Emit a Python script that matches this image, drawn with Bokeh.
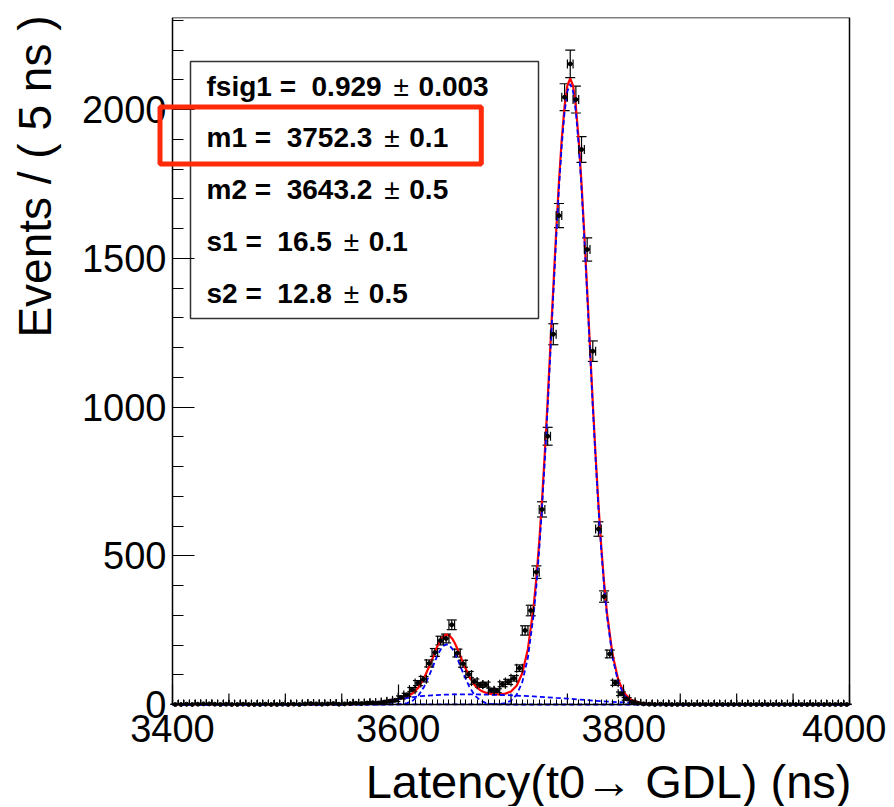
import math
from bokeh.plotting import figure
from bokeh.models import (Range1d, FixedTicker, Whisker, TeeHead, ColumnDataSource)
from bokeh.embed import file_html
from bokeh.resources import INLINE
from bokeh.core.properties import value

# ---------------- data ----------------
bin_lo, bin_width, n_bins = 3400.0, 5.0, 120
counts = [
    0, 0, 1, 0, 1, 2, 2, 1, 0, 1,
    0, 0, 1, 0, 0, 0, 1, 0, 0, 1,
    0, 1, 0, 2, 3, 2, 1, 2, 3, 1,
    2, 3, 4, 3, 5, 6, 5, 8, 11, 14,
    24, 32, 50, 72, 85, 138, 175, 215, 222, 268,
    173, 137, 101, 77, 66, 67, 48, 46, 68, 76,
    88, 122, 249, 316, 445, 656, 902, 1245, 1644, 2042,
    2154, 2034, 1866, 1530, 1188, 590, 363, 170, 73, 36,
    19, 9, 4, 2, 1, 0, 1, 0, 0, 0,
    0, 0, 0, 0, 0, 0, 0, 0, 0, 0,
    0, 0, 0, 0, 0, 0, 0, 0, 0, 0,
    0, 0, 0, 0, 0, 0, 0, 0, 0, 0,
]

# total fit (red)
total_x = [3400, 3450, 3500, 3530, 3550, 3560, 3570, 3580, 3590, 3598, 3603, 3608, 3613,
           3618, 3623, 3628, 3630.5, 3633, 3635.5, 3638, 3640.5, 3643, 3645.5, 3648,
           3650.5, 3653, 3655.5, 3658, 3663, 3668, 3673, 3678, 3683, 3690, 3695, 3700,
           3705, 3710, 3715, 3720, 3722.5, 3725, 3727.5, 3730, 3732.5, 3735, 3737.5,
           3740, 3742.5, 3745, 3747.5, 3750, 3752.5, 3755, 3757.5, 3760, 3762.5, 3765,
           3767.5, 3770, 3772.5, 3775, 3777.5, 3780, 3782.5, 3785, 3790, 3795, 3800,
           3805, 3810, 3815, 3820, 3830, 3840, 3850, 3870, 3900, 4000]
total_y = [0, 0.1, 0.2, 0.5, 1, 1.5, 3, 6, 11, 16.2, 20.3, 26.6, 37.5,
           57, 88.9, 132.4, 156.1, 180.6, 202.1, 219.6, 231, 235.3, 231.5, 220.8,
           204, 183, 159, 136, 94, 64, 47, 38.6, 35.1, 33.8, 36.5, 44,
           63, 105, 187, 327, 425.5, 546, 686.5, 848, 1024, 1212.5, 1402,
           1587, 1757.5, 1902, 2012.5, 2082, 2105, 2080.5, 2010, 1898, 1752, 1580.5,
           1394, 1203, 1013, 835.5, 673, 531, 409.5, 310, 168, 84, 40,
           19, 10, 5.6, 3.4, 2, 1, 0.5, 0.2, 0.05, 0]

# component 1 (blue dashed, main peak)
sig1_x = [3400, 3680, 3690, 3695, 3700, 3705, 3710, 3715, 3720, 3722.5, 3725, 3727.5,
          3730, 3732.5, 3735, 3737.5, 3740, 3742.5, 3745, 3747.5, 3750, 3752.5, 3755,
          3757.5, 3760, 3762.5, 3765, 3767.5, 3770, 3772.5, 3775, 3777.5, 3780, 3782.5,
          3785, 3790, 3795, 3800, 3805, 3810, 3815, 3820, 3830, 4000]
sig1_y = [0, 0.3, 1.6, 5, 13, 33, 75, 158, 300, 399, 520, 661,
          823, 1000, 1189, 1379, 1565, 1736, 1881, 1992, 2062, 2086, 2062,
          1992, 1881, 1736, 1565, 1379, 1189, 1000, 823, 661, 520, 399,
          300, 158, 75, 33, 13, 5, 1.6, 0.4, 0, 0]

# component 2 (blue dashed, second peak)
sig2_x = [3400, 3590, 3598, 3603, 3608, 3613, 3618, 3623, 3628, 3630.5, 3633, 3635.5,
          3638, 3640.5, 3643, 3645.5, 3648, 3650.5, 3653, 3655.5, 3658, 3663, 3668,
          3673, 3678, 3683, 3688, 3700, 4000]
sig2_y = [0, 0.05, 0.4, 1.5, 4.8, 13, 30, 60, 102, 125, 149, 170,
          187, 198, 202, 198, 187, 170, 149, 125, 102, 60, 30,
          13, 4.8, 1.5, 0.4, 0, 0]

# component 3 (blue dashed, broad)
bkg_x = [3400, 3500, 3530, 3550, 3560, 3570, 3580, 3590, 3600, 3610, 3620, 3630, 3640,
         3650, 3660, 3670, 3680, 3690, 3700, 3710, 3720, 3730, 3740, 3750, 3760, 3770,
         3780, 3790, 3800, 3810, 3820, 3830, 3840, 3850, 3870, 3900, 4000]
bkg_y = [0, 0.2, 0.5, 1, 1.5, 3, 6, 11, 17, 23, 28, 31, 33,
         34, 34, 34, 33, 32, 31, 29, 27, 25, 22, 20, 17, 14,
         11, 9, 7, 5, 3, 2, 1, 0.5, 0.2, 0, 0]

# fit parameters: (name, value, error)
param_names = ["fsig1", "m1", "m2", "s1", "s2"]
param_values = ["0.929", "3752.3", "3643.2", "16.5", "12.8"]
param_errors = ["0.003", "0.1", "0.5", "0.1", "0.5"]

x_major = [3400, 3600, 3800, 4000]
y_major = [0, 500, 1000, 1500, 2000]
y_title = "Events / ( 5 ns )"
x_title = "Latency(t0\u2192 GDL) (ns)"

# ---------------- layout ----------------
X0, X1, Y0, Y1 = 3400, 4000, 0, 2310
AX_L, AX_R, AX_T, AX_B = 172, 849, 17, 704   # axis box in page pixels
SX = (AX_R - AX_L) / (X1 - X0)               # px per ns
SY = (AX_B - AX_T) / (Y1 - Y0)               # px per event
PAGE_W = 886
FW = PAGE_W                                  # frame spans the margins too
FH = 789
XR0 = X0 - AX_L / SX
XR1 = X1 + (PAGE_W - AX_R) / SX
YR0 = Y1 - FH / SY


def dx(px):  # page x pixel -> data x
    return X0 + (px - AX_L) / SX


def dy(py):  # page y pixel -> data y
    return Y1 - (py - AX_T) / SY


def hpx(n):  # vertical pixel length -> data length
    return n / SY


FONT = "Liberation Sans"
BOX_FS = 28
# advance widths (em) of Liberation Sans Bold for the characters used
BOLD_W = {"f": .333, "s": .556, "i": .278, "g": .611, "m": .889, ".": .278,
          " ": .278, "=": .584}


def bold_width(t):
    return sum(BOLD_W.get(ch, .556) for ch in t) * BOX_FS


p = figure(frame_width=FW, frame_height=FH,
           x_range=Range1d(XR0, XR1), y_range=Range1d(YR0, Y1),
           output_backend="svg", toolbar_location=None,
           min_border_left=0, min_border_top=AX_T,
           min_border_right=0, min_border_bottom=0,
           background_fill_color="white", border_fill_color="white")
p.grid.visible = False
p.outline_line_color = None

# axes (placed on the axis box inside the wide frame)
xa = p.xaxis[0]
xa.fixed_location = Y0
xa.bounds = (X0, X1)
xa.ticker = FixedTicker(ticks=x_major,
                        minor_ticks=[X0 + 5 * i for i in range(121)])
xa.major_tick_in = 20
xa.major_tick_out = 0
xa.minor_tick_in = 5
xa.minor_tick_out = 0
ya = p.yaxis[0]
ya.fixed_location = X0
ya.bounds = (Y0, Y1)
ya.ticker = FixedTicker(ticks=y_major, minor_ticks=[100 * i for i in range(24)])
ya.major_tick_in = 22
ya.major_tick_out = 0
ya.minor_tick_in = 11
ya.minor_tick_out = 0
for ax in (xa, ya):
    ax.axis_line_color = "black"
    ax.axis_line_width = 1.5
    ax.major_tick_line_color = "black"
    ax.minor_tick_line_color = "black"
    ax.major_tick_line_width = 1.2
    ax.minor_tick_line_width = 1
    ax.major_label_text_font = FONT
    ax.major_label_text_font_size = "38px"
    ax.major_label_text_color = "black"
xa.major_label_standoff = 10
ya.major_label_standoff = 6

# top and right frame edges
p.line([X0, X1, X1], [Y1, Y1, Y0], line_color="black", line_width=1.5)

# medium x ticks (every 50)
mid_ticks = [t for t in range(3450, 4000, 50) if t % 200 != 0]
p.segment(x0=mid_ticks, y0=[0] * len(mid_ticks), x1=mid_ticks,
          y1=[hpx(11)] * len(mid_ticks), line_color="black", line_width=1.2)

# axis titles
p.text(x=[dx(34)], y=[dy(15)], text=[y_title], angle=math.pi / 2,
       text_font=value(FONT), text_font_size="46px", text_color="black",
       text_align="right", text_baseline="middle")
p.text(x=[dx(851)], y=[dy(781)], text=[x_title],
       text_font=value(FONT), text_font_size="47px", text_color="black",
       text_align="right", text_baseline="middle")

# fit curves
p.line(total_x, total_y, line_color="#ff0000", line_width=2.2)
for cx, cy in ((sig1_x, sig1_y), (sig2_x, sig2_y), (bkg_x, bkg_y)):
    p.line(cx, cy, line_color="#0000ff", line_width=1.8, line_dash="5 3")

# data with errors
centers = [bin_lo + bin_width * (i + 0.5) for i in range(n_bins)]
lo = [c - (math.sqrt(c) if c > 0 else 0) for c in counts]
hi = [c + (math.sqrt(c) if c > 0 else 1.15) for c in counts]
xl = [c - bin_width / 2 for c in centers]
xr = [c + bin_width / 2 for c in centers]
src = ColumnDataSource(dict(x=centers, y=counts, lo=lo, hi=hi, xl=xl, xr=xr))
p.add_layout(Whisker(source=src, base="x", lower="lo", upper="hi", dimension="height",
                     line_color="black", line_width=1.2,
                     upper_head=TeeHead(size=10, line_color="black", line_width=1.2),
                     lower_head=TeeHead(size=10, line_color="black", line_width=1.2)))
p.add_layout(Whisker(source=src, base="y", lower="xl", upper="xr", dimension="width",
                     line_color="black", line_width=1.2,
                     upper_head=None, lower_head=None))
# end lines of the horizontal bars, kept above the x axis like the original's clipping
h = hpx(4.5)
end_y0 = [max(0.0, c - h) for c in counts]
end_y1 = [c + h for c in counts]
p.segment(x0=xl + xr, y0=end_y0 + end_y0, x1=xl + xr, y1=end_y1 + end_y1,
          line_color="black", line_width=1.2)
p.scatter("x", "y", source=src, size=4, color="black")

# parameter box
p.quad(left=[dx(190)], right=[dx(538)], top=[dy(61)], bottom=[dy(318)],
       fill_color="white", line_color="#333333", line_width=1.5)
centers_px = [85.5, 137, 189, 241, 292.5]
left_px = 206
lx, ly, lt, pmx, ex, et = [], [], [], [], [], []
for name, val, err, cy in zip(param_names, param_values, param_errors, centers_px):
    left_txt = name + " =\u00a0\u00a0" + val
    w = bold_width(name + " =  " + val)
    lx.append(dx(left_px))
    ly.append(dy(cy))
    lt.append(left_txt)
    pmx.append(dx(left_px + w + 12))
    ex.append(dx(left_px + w + 37))
    et.append(err)
p.text(x=lx, y=ly, text=lt, text_font=value(FONT), text_font_size=f"{BOX_FS}px",
       text_font_style="bold", text_color="black", text_baseline="middle",
       text_align="left")
p.text(x=pmx, y=ly, text=["\u00b1"] * len(ly), text_font=value(FONT),
       text_font_size=f"{BOX_FS}px", text_font_style="normal", text_color="black",
       text_baseline="middle", text_align="left")
p.text(x=ex, y=ly, text=et, text_font=value(FONT), text_font_size=f"{BOX_FS}px",
       text_font_style="bold", text_color="black", text_baseline="middle",
       text_align="left")

# red highlight rectangle (crosses the axis line)
p.quad(left=[dx(159.5)], right=[dx(480.8)], top=[dy(106.5)], bottom=[dy(163.5)],
       fill_alpha=0, line_color="#ff2a0a", line_width=5, level="overlay")

open("out.html", "w").write(file_html(p, INLINE))
